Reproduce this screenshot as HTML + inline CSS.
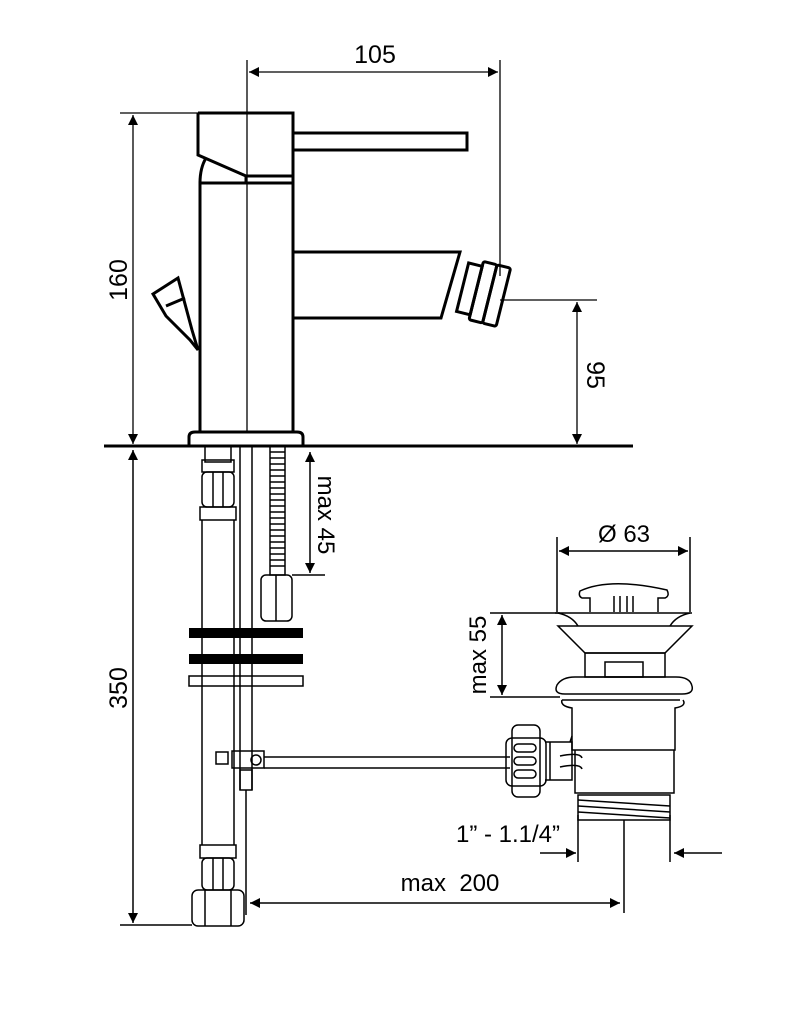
<!DOCTYPE html>
<html><head><style>
html,body{margin:0;padding:0;background:#fff;width:804px;height:1027px;overflow:hidden}
text{font-family:"Liberation Sans",Arial,sans-serif;fill:#000}
</style></head><body>
<svg width="804" height="1027" viewBox="0 0 804 1027" xmlns="http://www.w3.org/2000/svg">
<defs>
<marker id="a" viewBox="0 0 10 10" refX="10" refY="5" markerWidth="14" markerHeight="10" orient="auto-start-reverse" markerUnits="userSpaceOnUse"><path d="M0,0 L10,5 L0,10 z" fill="#000"/></marker>
</defs>
<g fill="none" stroke="#000" stroke-width="1.3">
<line x1="247" y1="60" x2="247" y2="432"/>
<line x1="249" y1="72" x2="498" y2="72" marker-start="url(#a)" marker-end="url(#a)"/>
<line x1="500" y1="60" x2="500" y2="276"/>
<line x1="120" y1="113" x2="198" y2="113"/>
<line x1="133" y1="115" x2="133" y2="444" marker-start="url(#a)" marker-end="url(#a)"/>
<line x1="500" y1="300" x2="597" y2="300"/>
<line x1="577" y1="302" x2="577" y2="444" marker-start="url(#a)" marker-end="url(#a)"/>
</g>
<g fill="none" stroke="#000" stroke-width="3">
<path d="M198,113 H293 V183 M198,113 V155 L246,176 H293"/>
<path d="M200,432 V183 H293 V432"/>
<path d="M246,176 V183 M200,183 Q200,168 206,158"/>
<rect x="293" y="133" width="174" height="17"/>
<path d="M293,252 H460 L441,318 H293"/>
<g transform="rotate(14 482 292)">
<rect x="462" y="267" width="14" height="50"/>
<rect x="476" y="262" width="14" height="60" rx="2"/>
<rect x="490" y="262" width="14" height="60" rx="2"/>
</g>
<path d="M153,294 L178,278 L192,330 L198,350 L190,340 L166,316 Z"/>
<path d="M166,306 L185,298"/>
<path d="M189,446 V437 Q189,432 195,432 H297 Q303,432 303,437 V446"/>
<line x1="104" y1="446" x2="633" y2="446"/>
</g>
<g fill="none" stroke="#000" stroke-width="1.5">
<line x1="202" y1="520" x2="202" y2="845"/><line x1="234" y1="520" x2="234" y2="845"/>
<line x1="240" y1="446" x2="240" y2="790"/><line x1="252" y1="446" x2="252" y2="790"/>
<line x1="246" y1="790" x2="246" y2="915"/>
<rect x="240" y="770" width="12" height="20"/>
<rect x="205" y="446" width="26" height="16"/>
<rect x="202" y="460" width="32" height="12"/>
<rect x="202" y="472" width="32" height="35" rx="5"/>
<line x1="213" y1="472" x2="213" y2="507"/><line x1="223" y1="472" x2="223" y2="507"/>
<rect x="200" y="507" width="36" height="13"/>
<rect x="270" y="446" width="15" height="129"/>
<path d="M270,452 H285 M270,458 H285 M270,464 H285 M270,470 H285 M270,476 H285 M270,482 H285 M270,488 H285 M270,494 H285 M270,500 H285 M270,506 H285 M270,512 H285 M270,518 H285 M270,524 H285 M270,530 H285 M270,536 H285 M270,542 H285 M270,548 H285 M270,554 H285 M270,560 H285 M270,566 H285"/>
<rect x="261" y="575" width="31" height="46" rx="5"/><line x1="276" y1="575" x2="276" y2="621"/>
<rect x="189" y="676" width="114" height="10"/>
<rect x="216" y="752" width="12" height="12"/>
<rect x="232" y="751" width="32" height="17"/>
<circle cx="256" cy="760" r="5"/>
<line x1="264" y1="757" x2="510" y2="757"/><line x1="264" y1="768" x2="510" y2="768"/>
<rect x="200" y="845" width="36" height="13"/>
<rect x="202" y="858" width="32" height="32" rx="5"/>
<line x1="213" y1="858" x2="213" y2="890"/><line x1="223" y1="858" x2="223" y2="890"/>
<rect x="192" y="890" width="52" height="36" rx="6"/>
<line x1="205" y1="890" x2="205" y2="926"/><line x1="231" y1="890" x2="231" y2="926"/>
<line x1="292" y1="575" x2="325" y2="575"/>
<line x1="310" y1="452" x2="310" y2="573" marker-start="url(#a)" marker-end="url(#a)"/>
<line x1="133" y1="450" x2="133" y2="923" marker-start="url(#a)" marker-end="url(#a)"/>
<line x1="120" y1="925" x2="192" y2="925"/>
<line x1="250" y1="903" x2="620" y2="903" marker-start="url(#a)" marker-end="url(#a)"/>
<line x1="624" y1="820" x2="624" y2="913"/>
<line x1="540" y1="853" x2="576" y2="853" marker-end="url(#a)"/>
<line x1="722" y1="853" x2="674" y2="853" marker-end="url(#a)"/>
<line x1="578" y1="815" x2="578" y2="862"/><line x1="670" y1="815" x2="670" y2="862"/>
<line x1="557" y1="537" x2="557" y2="612"/><line x1="690" y1="537" x2="690" y2="612"/>
<line x1="559" y1="551" x2="688" y2="551" marker-start="url(#a)" marker-end="url(#a)"/>
<line x1="490" y1="613" x2="560" y2="613"/><line x1="490" y1="697" x2="560" y2="697"/>
<line x1="502" y1="615" x2="502" y2="695" marker-start="url(#a)" marker-end="url(#a)"/>
<path d="M590,612 V598 H582 Q578,596 580,591 Q610,577 667,590 Q670,596 665,598 H658 V612"/>
<path d="M614,596 V612 M620,596 V612 M627,596 V612 M633,596 V612"/>
<line x1="555" y1="613" x2="692" y2="613"/>
<path d="M558,613 Q572,616 578,626 M690,613 Q676,616 670,626"/>
<path d="M558,626 H692 L665,653 H585 Z"/>
<rect x="585" y="653" width="80" height="24"/>
<rect x="605" y="662" width="38" height="15"/>
<path d="M565,694 Q553,694 557,685 Q562,677 575,677 H676 Q690,677 692,686 Q694,694 682,694 Z"/>
<path d="M562,700 H680 M562,700 Q560,706 572,708 H572 V750 H675 V708 Q687,706 683,700"/>
<path d="M575,750 V793 H674 V750"/>
<rect x="578" y="795" width="92" height="25"/>
<path d="M578,800 L670,806 M578,806 L670,812 M578,812 L670,818"/>
<path d="M545,742 H572 V780 H545 M550,742 V780 M572,736 L570,742"/>
<path d="M560,756 Q580,752 582,758 M560,767 Q580,763 582,769"/>
<rect x="512" y="725" width="28" height="72" rx="6"/>
<rect x="506" y="738" width="40" height="48" rx="6"/>
<rect x="514" y="744" width="22" height="8" rx="4"/><rect x="514" y="757" width="22" height="8" rx="4"/><rect x="514" y="770" width="22" height="8" rx="4"/>
</g>
<g fill="#000">
<rect x="189" y="628" width="114" height="10"/>
<rect x="189" y="654" width="114" height="10"/>
</g>
<text x="375" y="63" font-size="25" text-anchor="middle">105</text>
<text transform="translate(127,280) rotate(-90)" font-size="25" text-anchor="middle">160</text>
<text transform="translate(587,375) rotate(90)" font-size="25" text-anchor="middle">95</text>
<text transform="translate(318,515) rotate(90)" font-size="24" text-anchor="middle">max 45</text>
<text transform="translate(127,688) rotate(-90)" font-size="25" text-anchor="middle">350</text>
<text x="624" y="542" font-size="24" text-anchor="middle">Ø 63</text>
<text transform="translate(486,655) rotate(-90)" font-size="24" text-anchor="middle">max 55</text>
<text x="508" y="842" font-size="24" text-anchor="middle">1” - 1.1/4”</text>
<text x="450" y="891" font-size="24" text-anchor="middle" xml:space="preserve">max  200</text>
</svg>
</body></html>
